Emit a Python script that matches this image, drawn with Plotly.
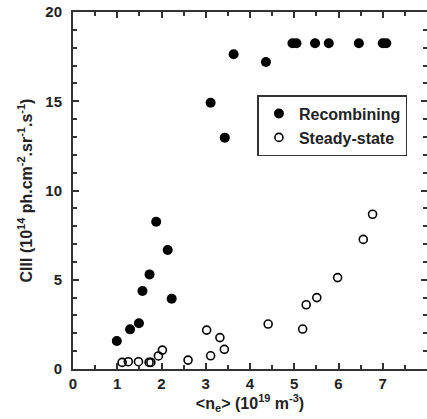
import plotly.graph_objects as go

rec_x = [0.99, 1.29, 1.49, 1.57, 1.73, 1.88, 2.14, 2.23, 3.11, 3.43, 3.63, 4.36, 4.96, 5.05, 5.47, 5.78, 6.46, 7.0, 7.08]
rec_y = [1.57, 2.22, 2.56, 4.37, 5.3, 8.25, 6.67, 3.94, 14.92, 12.96, 17.63, 17.2, 18.25, 18.25, 18.25, 18.25, 18.25, 18.25, 18.25]

ss_x = [1.11, 1.25, 1.48, 1.72, 1.76, 1.93, 2.02, 2.6, 3.02, 3.11, 3.32, 3.42, 4.41, 5.19, 5.27, 5.51, 5.98, 6.56, 6.77]
ss_y = [0.37, 0.41, 0.41, 0.37, 0.37, 0.73, 1.06, 0.5, 2.18, 0.74, 1.76, 1.1, 2.52, 2.24, 3.6, 4.0, 5.12, 7.26, 8.67]

x_range = [0, 8]
y_range = [0, 20]
x_tick_step = 1
y_tick_step = 5
x_minor_step = 0.5
y_minor_step = 1

FONT = "Liberation Sans, Arial, sans-serif"
AX = "#333333"
SUP = "<sup><span style='font-size:11px'>{}</span></sup>"

fig = go.Figure()
fig.add_trace(go.Scatter(x=rec_x, y=rec_y, mode="markers", name="<b>Recombining</b>",
                         marker=dict(symbol="circle", size=10, color="black",
                                     line=dict(width=0))))
fig.add_trace(go.Scatter(x=ss_x, y=ss_y, mode="markers", name="<b>Steady-state</b>",
                         marker=dict(symbol="circle-open", size=8, color="black",
                                     line=dict(width=1.6))))

axis_common = dict(
    showline=True, linecolor=AX, linewidth=2, mirror="allticks",
    ticks="inside", ticklen=6, tickwidth=2, tickcolor=AX,
    showgrid=False, zeroline=False, automargin=False,
    tickfont=dict(family=FONT, size=15, color="#222222", weight="bold"),
)

x_title = "<b>&lt;n<sub>e</sub>&gt; (10" + SUP.format("19") + " m" + SUP.format("-3") + ")</b>"
y_title = ("<b>CIII (10" + SUP.format("14") + " ph.cm" + SUP.format("-2") + ".sr"
           + SUP.format("-1") + ".s" + SUP.format("-1") + ")</b>")

fig.update_xaxes(range=x_range, tickmode="linear", tick0=0, dtick=x_tick_step,
                 minor=dict(ticks="inside", ticklen=4, dtick=x_minor_step, tickcolor=AX, tickwidth=1.5, showgrid=False),
                 title=dict(text=x_title, font=dict(family=FONT, size=16, color="#222222"), standoff=2),
                 **axis_common)
fig.update_yaxes(range=y_range, tickmode="linear", tick0=0, dtick=y_tick_step,
                 minor=dict(ticks="inside", ticklen=4, dtick=y_minor_step, tickcolor=AX, tickwidth=1.5, showgrid=False),
                 title=dict(text=y_title, font=dict(family=FONT, size=16, color="#222222"), standoff=9),
                 ticklabelstandoff=6,
                 **axis_common)

fig.update_layout(
    width=427, height=419,
    margin=dict(l=73, r=0, t=12, b=50),
    paper_bgcolor="white", plot_bgcolor="white",
    font=dict(family=FONT, color="#222222"),
    legend=dict(x=0.521, y=0.767, xanchor="left", yanchor="top",
                bordercolor=AX, borderwidth=1.5, bgcolor="white",
                font=dict(family=FONT, size=16, color="#222222"),
                entrywidth=137, entrywidthmode="pixels",
                itemsizing="trace", tracegroupgap=0),
    showlegend=True,
)

post = (
    "document.body.style.margin='0';document.body.style.padding='0';"
    "document.documentElement.style.overflow='hidden';"
)
fig.write_html("out.html", config={"displayModeBar": False}, post_script=post)
